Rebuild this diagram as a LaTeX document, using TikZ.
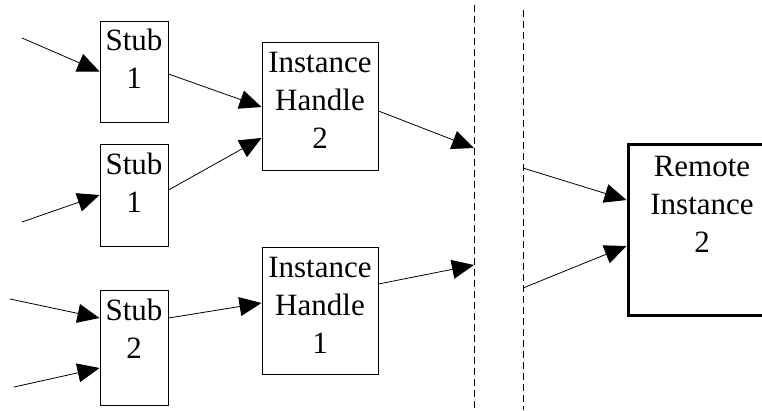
\documentclass[tikz,border=0pt]{standalone}
\usepackage{fontspec}
\setmainfont{Liberation Serif}
\usetikzlibrary{arrows.meta}
\begin{document}
\begin{tikzpicture}[x=1pt, y=-1pt, box style/.style={draw, rectangle, line width=1pt, inner sep=0pt, align=center, text height=30pt, font=\fontsize{31}{38}\selectfont}, stub style/.style={box style, text width=68pt}, handle style/.style={box style, text width=116pt}, link/.style={line width=0.8pt, -{Triangle[length=22pt, width=19pt]}}, wall/.style={line width=0.8pt, dash pattern=on 7pt off 4pt}]
	\useasboundingbox (0,0) rectangle (762,410);
	\node[stub style, text height=29pt, text depth=72pt] (S1) at (134,71.5) {Stub\\1};
	\node[stub style, text depth=72pt] (S2) at (134,195) {Stub\\1};
	\node[stub style, text depth=85pt] (S3) at (134,347.5) {Stub\\2};
	\node[handle style, text depth=98pt] (H2) at (320,106) {Instance\\Handle\\2};
	\node[handle style, text depth=97pt] (H1) at (320,310.5) {Instance\\Handle\\1};
	\node[box style, line width=3pt, text width=148pt, text height=32pt, text depth=139pt] (R) at (702,229.5) {Remote\\Instance\\2};
	% loose ends
	\coordinate (in1) at (22,38);
	\coordinate (in2) at (22,222);
	\coordinate (in3) at (10,299);
	\coordinate (in4) at (14,387);
	\coordinate (wallA top) at (474,5);
	\coordinate (wallA bot) at (474,410);
	\coordinate (wallB top) at (523,10);
	\coordinate (wallB bot) at (523,410);
	\coordinate (gateA) at (474,148);
	\coordinate (gateB) at (474,265);
	\coordinate (exitA) at (523,168);
	\coordinate (exitB) at (523,288);
	\foreach \w in {A,B}
	\draw[wall] (wall\w\space top) -- (wall\w\space bot);
	\draw[link] (in1) -- (S1.west);
	\draw[link] (in2) -- (S2.west);
	\draw[link] (in3) -- ([yshift=29.5pt]S3.west);
	\draw[link] (in4) -- ([yshift=-20.5pt]S3.west);
	\draw[link] ([yshift=-2.5pt]S1.east) -- ([yshift=-1pt]H2.west);
	\draw[link] ([yshift=5pt]S2.east) -- ([yshift=-32pt]H2.west);
	\draw[link] ([yshift=29.5pt]S3.east) -- ([yshift=7.5pt]H1.west);
	\draw[link] ([yshift=-5pt]H2.east) -- (gateA);
	\draw[link] ([yshift=26.5pt]H1.east) -- (gateB);
	\draw[link] (exitA) -- ([yshift=29.5pt]R.west);
	\draw[link] (exitB) -- ([yshift=-16.5pt]R.west);
\end{tikzpicture}
\end{document}
